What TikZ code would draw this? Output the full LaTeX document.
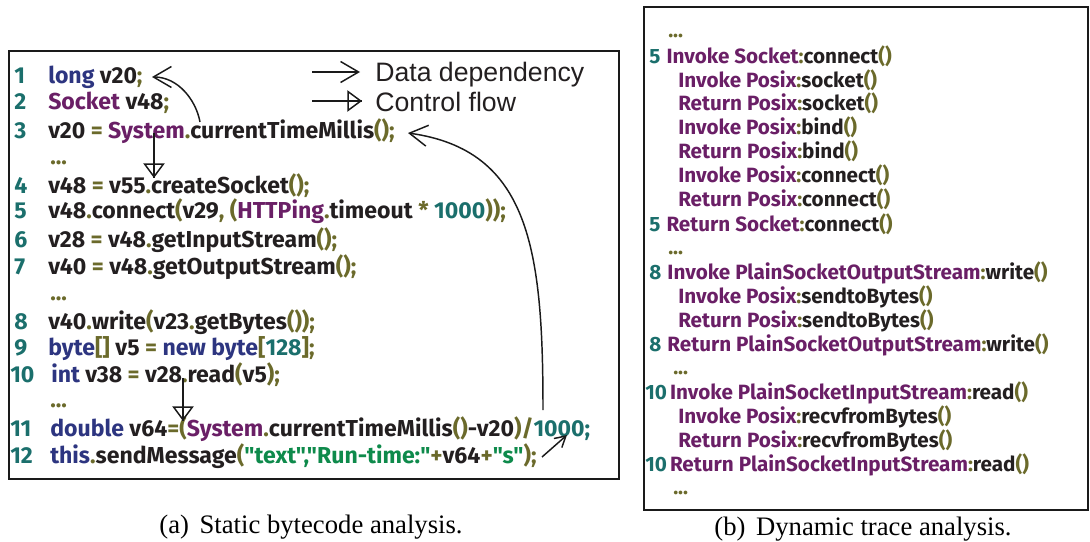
\documentclass[tikz,border=0pt]{standalone}
\usepackage{fontspec}
\setmainfont{Liberation Serif}
\newfontfamily\codefont{Fira Sans}
\newfontfamily\legendfont{Liberation Sans}
\usetikzlibrary{arrows.meta}

% syntax colours
\definecolor{lnum}{HTML}{1B6F6C}
\definecolor{kwblue}{HTML}{2D3580}
\definecolor{clpurple}{HTML}{6A1F66}
\definecolor{pnolive}{HTML}{6B6A2B}
\definecolor{ink}{HTML}{231F20}
\definecolor{strgreen}{HTML}{0E8A4B}
\definecolor{frame}{HTML}{1A1A1A}

\newcommand\Kw[1]{\textcolor{kwblue}{#1}}
\newcommand\Cl[1]{\textcolor{clpurple}{#1}}
\newcommand\Pn[1]{\textcolor{pnolive}{#1}}
\newcommand\Nm[1]{\textcolor{lnum}{#1}}
\newcommand\St[1]{\textcolor{strgreen}{#1}}

\tikzset{
  panel/.style={draw=frame, line width=1.5pt},
  lno/.style={anchor=base west, inner sep=0pt, text=lnum,
    font=\codefont\bfseries\fontsize{17.3}{20}\selectfont},
  src/.style={anchor=base west, inner sep=0pt, text=ink,
    font=\codefont\bfseries\fontsize{17.3}{20}\selectfont},
  trc/.style={anchor=base west, inner sep=0pt, text=ink,
    font=\codefont\bfseries\fontsize{15.5}{18}\selectfont},
  legendtext/.style={anchor=base west, inner sep=0pt, text=ink,
    font=\legendfont\fontsize{20}{22}\selectfont},
  captiontext/.style={anchor=base, inner sep=0pt, text=black,
    font=\fontsize{20}{22}\selectfont},
  datadep/.style={draw=frame, line width=1.1pt,
    -{Straight Barb[length=13.5pt,width=15.75pt]}},
  smalldep/.style={draw=frame, line width=1.1pt,
    -{Straight Barb[length=8pt,width=9pt]}},
  ctrlflow/.style={draw=frame, line width=1.1pt,
    -{Triangle[open,length=11pt,width=16pt]}},
  stem/.style={draw=frame, line width=1.1pt},
}

\begin{document}
\begin{tikzpicture}[x=0.75pt, y=-0.75pt]
\useasboundingbox (0,0) rectangle (1090,542);

% ---------- (a) static bytecode ----------
\draw[panel] (9,51) rectangle (619,479);

\node[lno] (n1)  at (14,84)  {1};
\node[src] (s1)  at (48,84)  {\Kw{long} v20\Pn{;}};
\node[lno] (n2)  at (14,110) {2};
\node[src] (s2)  at (48,110) {\Cl{Socket} v48\Pn{;}};
\node[lno] (n3)  at (14,139) {3};
\node[src] (s3)  at (48,139) {v20 \Pn{=} \Cl{System}\Pn{.}currentTimeMillis\Pn{();}};
\node[src] (d1)  at (50,165) {\Pn{...}};
\node[lno] (n4)  at (14,193) {4};
\node[src] (s4)  at (48,193) {v48 \Pn{=} v55\Pn{.}createSocket\Pn{();}};
\node[lno] (n5)  at (14,219) {5};
\node[src] (s5)  at (48,219) {v48\Pn{.}connect\Pn{(}v29\Pn{, (}\Cl{HTTPing}\Pn{.}timeout \Pn{*} \Nm{1000}\Pn{));}};
\node[lno] (n6)  at (14,247) {6};
\node[src] (s6)  at (48,247) {v28 \Pn{=} v48\Pn{.}getInputStream\Pn{();}};
\node[lno] (n7)  at (14,274) {7};
\node[src] (s7)  at (48,274) {v40 \Pn{=} v48\Pn{.}getOutputStream\Pn{();}};
\node[src] (d2)  at (50,300) {\Pn{...}};
\node[lno] (n8)  at (14,329) {8};
\node[src] (s8)  at (48,329) {v40\Pn{.}write\Pn{(}v23\Pn{.}getBytes\Pn{());}};
\node[lno] (n9)  at (14,355) {9};
\node[src] (s9)  at (48,355) {\Kw{byte}\Pn{[]} v5 \Pn{=} \Kw{new} \Kw{byte}\Pn{[}\Nm{128}\Pn{];}};
\node[lno] (n10) at (10,382) {10};
\node[src] (s10) at (51,382) {\Kw{int} v38 \Pn{=} v28\Pn{.}read\Pn{(}v5\Pn{);}};
\node[src] (d3)  at (50,407) {\Pn{...}};
\node[lno] (n11) at (10,436) {11};
\node[src] (s11) at (50,436) {\Kw{double} v64\Pn{=(}\Cl{System}\Pn{.}currentTimeMillis\Pn{()}-v20\Pn{)/}\Nm{1000;}};
\node[lno] (n12) at (10,463) {12};
\node[src] (s12) at (50,463) {\Kw{this}\Pn{.}sendMessage\Pn{(}\St{"text","Run-time:"}\Pn{+}v64\Pn{+}\St{"s"}\Pn{);}};

% legend
\coordinate (ld0) at (312,72);  \coordinate (ld1) at (360,72);
\coordinate (lc0) at (312,101); \coordinate (lc1) at (362,101);
\draw[datadep] (ld0) -- (ld1);
\draw[stem] (lc0) -- (lc1);
\draw[ctrlflow] (lc0) -- (lc1);
\node[legendtext] (legd) at (375,82)  {Data dependency};
\node[legendtext] (legc) at (375,112) {Control flow};

% dependencies and control flow
\coordinate (v20use)  at (200,122); \coordinate (v20def) at (152,77);
\draw[datadep] (v20use) .. controls (196,100) and (178,77) .. (v20def);

\coordinate (cf1a) at (154,133); \coordinate (cf1b) at (154,178);
\draw[stem] (cf1a) -- (cf1b);
\draw[ctrlflow] (cf1a) -- (cf1b);

\coordinate (cf2a) at (183,378); \coordinate (cf2b) at (183,421);
\draw[stem] (cf2a) -- (cf2b);
\draw[ctrlflow] (cf2a) -- (cf2b);

\coordinate (timeuse) at (543,410); \coordinate (timedef) at (408,133);
\draw[datadep] (timeuse) .. controls (543,250) and (530,150) .. (timedef);

\coordinate (msgarg) at (542,457); \coordinate (divres) at (567,435);
\draw[smalldep] (msgarg) -- (divres);

\node[captiontext] (capa) at (311,533) {(a)\hspace{0.4em}Static bytecode analysis.};

% ---------- (b) dynamic trace ----------
\draw[panel] (644,7) rectangle (1088,510);

\node[trc] (t0)  at (668,38)  {\Pn{...}};
\node[trc] (t1)  at (649,64)  {\Nm{5}\hspace{0.3em}\Cl{Invoke Socket}\Pn{:}connect\Pn{()}};
\node[trc] (t2)  at (678,88)  {\Cl{Invoke Posix}\Pn{:}socket\Pn{()}};
\node[trc] (t3)  at (678,111) {\Cl{Return Posix}\Pn{:}socket\Pn{()}};
\node[trc] (t4)  at (678,135) {\Cl{Invoke Posix}\Pn{:}bind\Pn{()}};
\node[trc] (t5)  at (678,159) {\Cl{Return Posix}\Pn{:}bind\Pn{()}};
\node[trc] (t6)  at (678,182) {\Cl{Invoke Posix}\Pn{:}connect\Pn{()}};
\node[trc] (t7)  at (678,206) {\Cl{Return Posix}\Pn{:}connect\Pn{()}};
\node[trc] (t8)  at (649,231) {\Nm{5}\hspace{0.3em}\Cl{Return Socket}\Pn{:}connect\Pn{()}};
\node[trc] (t9)  at (668,254) {\Pn{...}};
\node[trc] (t10) at (649,279) {\Nm{8}\hspace{0.3em}\Cl{Invoke PlainSocketOutputStream}\Pn{:}write\Pn{()}};
\node[trc] (t11) at (678,303) {\Cl{Invoke Posix}\Pn{:}sendtoBytes\Pn{()}};
\node[trc] (t12) at (678,327) {\Cl{Return Posix}\Pn{:}sendtoBytes\Pn{()}};
\node[trc] (t13) at (649,351) {\Nm{8}\hspace{0.3em}\Cl{Return PlainSocketOutputStream}\Pn{:}write\Pn{()}};
\node[trc] (t14) at (673,374) {\Pn{...}};
\node[trc] (t15) at (645,399) {\Nm{10}\hspace{0.15em}\Cl{Invoke PlainSocketInputStream}\Pn{:}read\Pn{()}};
\node[trc] (t16) at (678,423) {\Cl{Invoke Posix}\Pn{:}recvfromBytes\Pn{()}};
\node[trc] (t17) at (678,447) {\Cl{Return Posix}\Pn{:}recvfromBytes\Pn{()}};
\node[trc] (t18) at (645,471) {\Nm{10}\hspace{0.15em}\Cl{Return PlainSocketInputStream}\Pn{:}read\Pn{()}};
\node[trc] (t19) at (673,494) {\Pn{...}};

\node[captiontext] (capb) at (863,535) {(b)\hspace{0.4em}Dynamic trace analysis.};
\end{tikzpicture}
\end{document}
